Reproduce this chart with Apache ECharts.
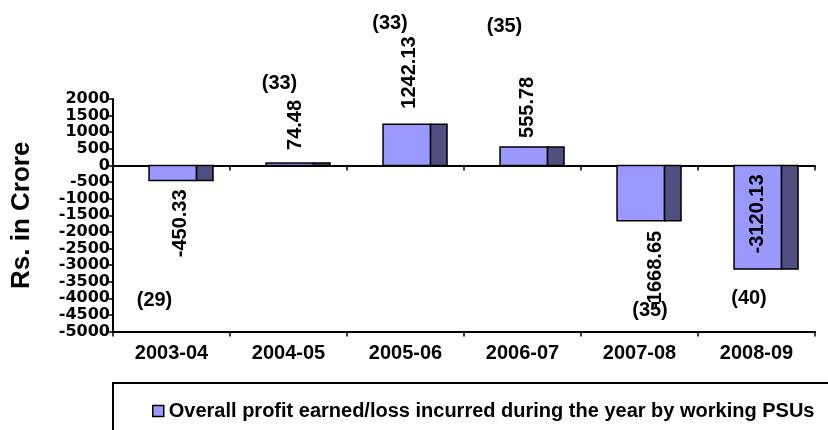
<!DOCTYPE html>
<html>
<head>
<meta charset="utf-8">
<script src="https://cdn.jsdelivr.net/npm/echarts@6/dist/echarts.min.js"></script>
<style>
  html, body { margin: 0; padding: 0; background: #fff; }
  #chart { width: 828px; height: 430px; }
</style>
</head>
<body>
<div id="chart"></div>
<script>
// data
var years = ['2003-04', '2004-05', '2005-06', '2006-07', '2007-08', '2008-09'];
var profit = [-450.33, 74.48, 1242.13, 555.78, -1668.65, -3120.13];
var psuCount = [29, 33, 33, 35, 35, 40];
var seriesName = 'Overall profit earned/loss incurred during the year by working PSUs';

// label placement (pixels) - the original labels sit a bit all over the place
var valDx = [8.5, 6.5, 4, 4.5, 15.5, 1];
var valGap = [9, 13, 15.5, 9, 10, 9];
var valInside = [false, false, false, false, false, true];
var cntDx = [-17, -9, -15.5, -18, 10.5, -7.5];
var cntDy = [135.5, -81.5, -141.5, -138.5, 145.5, 133.5];

var FONT = 'bold 20px "Liberation Sans", Arial, sans-serif';
var FRONT = '#9999FF';
var SIDE = '#4F4F82';

var chart = echarts.init(document.getElementById('chart'));

var barData = [];
for (var i = 0; i < years.length; i++) {
  barData.push([i, profit[i], psuCount[i]]);
}

function renderBar(params, api) {
  var i = api.value(0);
  var v = api.value(1);
  var zero = api.coord([i, 0]);
  var end = api.coord([i, v]);
  var band = api.size([1, 0])[0];
  var cx = zero[0];
  var fw = band * 0.406;
  var sw = band * 0.141;
  var x0 = cx - band * 0.192;
  var top = Math.min(zero[1], end[1]);
  var h = Math.abs(zero[1] - end[1]);

  var lx = cx + valDx[i];
  var ly, align;
  if (valInside[i]) {
    ly = zero[1] + valGap[i];
    align = 'right';
  } else if (v >= 0) {
    ly = end[1] - valGap[i];
    align = 'left';
  } else {
    ly = end[1] + valGap[i];
    align = 'right';
  }

  return {
    type: 'group',
    children: [
      {
        type: 'rect',
        shape: { x: x0, y: top, width: fw, height: h },
        style: { fill: FRONT, stroke: '#000', lineWidth: 1.5 }
      },
      {
        type: 'rect',
        shape: { x: x0 + fw, y: top, width: sw, height: h },
        style: { fill: SIDE, stroke: '#000', lineWidth: 1.5 }
      },
      {
        type: 'text',
        x: lx,
        y: ly,
        rotation: Math.PI / 2,
        style: {
          text: String(profit[i]),
          font: FONT,
          fill: '#000',
          align: align,
          verticalAlign: 'middle'
        }
      },
      {
        type: 'text',
        x: cx + cntDx[i],
        y: zero[1] + cntDy[i],
        style: {
          text: '(' + api.value(2) + ')',
          font: FONT,
          fill: '#000',
          align: 'center',
          verticalAlign: 'middle'
        }
      }
    ]
  };
}

var option = {
  backgroundColor: '#fff',
  animation: false,
  grid: { left: 113, right: 13, top: 99, bottom: 98.5 },
  legend: {
    left: 147,
    top: 396,
    itemWidth: 11,
    itemHeight: 11,
    itemGap: 5,
    data: [{ name: seriesName, icon: 'rect', itemStyle: { color: FRONT, borderColor: '#000', borderWidth: 1.5 } }],
    textStyle: { fontFamily: '"Liberation Sans", Arial, sans-serif', fontWeight: 'bold', fontSize: 20, color: '#000' }
  },
  graphic: [
    {
      type: 'rect',
      shape: { x: 113, y: 383, width: 800, height: 100 },
      style: { fill: 'none', stroke: '#000', lineWidth: 2 },
      z: -1
    }
  ],
  xAxis: [
    {
      type: 'category',
      data: years,
      position: 'bottom',
      axisLine: { onZero: false, lineStyle: { color: '#000', width: 2 } },
      axisTick: { show: true, length: 5, lineStyle: { color: '#000', width: 1.5 } },
      axisLabel: {
        color: '#000',
        fontFamily: '"Liberation Sans", Arial, sans-serif',
        fontWeight: 'bold',
        fontSize: 20,
        margin: 12
      }
    },
    {
      type: 'category',
      data: years,
      position: 'bottom',
      axisLine: { onZero: true, lineStyle: { color: '#000', width: 2 } },
      axisTick: { show: true, length: 5, lineStyle: { color: '#000', width: 1.5 } },
      axisLabel: { show: false }
    }
  ],
  yAxis: {
    type: 'value',
    min: -5000,
    max: 2000,
    interval: 500,
    name: 'Rs. in Crore',
    nameLocation: 'middle',
    nameRotate: 90,
    nameGap: 78,
    nameTextStyle: {
      color: '#000',
      fontFamily: '"Liberation Sans", Arial, sans-serif',
      fontWeight: 'bold',
      fontSize: 26
    },
    splitLine: { show: false },
    axisLine: { show: true, lineStyle: { color: '#000', width: 2 } },
    axisTick: { show: true, length: 4, lineStyle: { color: '#000', width: 1.5 } },
    axisLabel: {
      color: '#000',
      fontFamily: '"DejaVu Sans", sans-serif',
      fontWeight: 'bold',
      fontSize: 16,
      lineHeight: 14,
      margin: 3,
      showMinLabel: true,
      showMaxLabel: true,
      hideOverlap: false,
      formatter: function (v) { return String(v); }
    }
  },
  series: [
    {
      name: seriesName,
      type: 'custom',
      xAxisIndex: 0,
      renderItem: renderBar,
      itemStyle: { color: FRONT, borderColor: '#000' },
      encode: { x: 0, y: 1 },
      data: barData,
      clip: false
    }
  ]
};

chart.setOption(option);
</script>
</body>
</html>
